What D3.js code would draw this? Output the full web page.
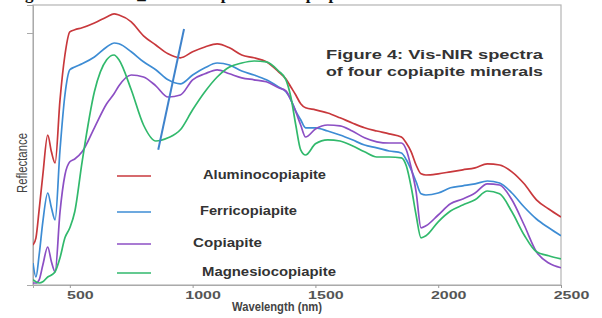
<!DOCTYPE html>
<html>
<head>
<meta charset="utf-8">
<script src="https://cdn.jsdelivr.net/npm/d3@7"></script>
<style>
  html, body { margin: 0; padding: 0; background: #fff; }
  svg { display: block; }
</style>
</head>
<body>
<svg id="chart" width="602" height="318"></svg>
<script>
// wavelength grid (nm) shared by all four spectra
const wavelengths = [350, 362, 375, 390, 410, 425, 440, 460, 480, 500,
  520, 550, 600, 650, 680, 700, 750, 800, 850, 900,
  950, 1000, 1050, 1100, 1150, 1200, 1250, 1300, 1350, 1380,
  1400, 1420, 1440, 1460, 1500, 1550, 1600, 1650, 1700, 1750,
  1800, 1850, 1870, 1890, 1910, 1930, 1950, 2000, 2050, 2100,
  2150, 2200, 2250, 2300, 2350, 2400, 2450, 2500];

// reflectance, arbitrary units
const aluminocopiapite = [10, 11.8, 18.8, 27.5, 37.5, 33.3, 30.5, 46.3, 57.5, 63.3,
  63.8, 64.3, 65.5, 67, 67.8, 67.5, 65.8, 62.3, 60, 57.8,
  56.8, 58.3, 59.5, 60.3, 59.3, 57.5, 56.8, 55.8, 53.3, 51.5,
  49.5, 47.5, 45.3, 44.3, 43.8, 43, 41.8, 40.5, 39.3, 38.5,
  37.8, 37, 35.5, 33.3, 30, 27.8, 27.5, 27.8, 28.3, 28.8,
  29.3, 30.3, 30, 28.3, 25.3, 21.3, 19, 17];
const ferricopiapite = [5.5, 2, 7.5, 15.8, 23, 19.3, 16.3, 33.8, 47.5, 53.8,
  54.5, 55.3, 57, 59.5, 60.5, 60.3, 58.3, 55.8, 53.8, 51.3,
  50.3, 52.5, 54.3, 55.5, 55, 53.5, 52.5, 51.3, 49.5, 48.3,
  46.3, 43.5, 41.3, 39.3, 39.3, 38.5, 37.5, 36.3, 35, 34.3,
  33.5, 33, 31.3, 28.8, 25.8, 22.8, 22.5, 23, 24.3, 24.8,
  25.3, 26, 25.5, 23, 19.5, 16.5, 14.3, 12.3];
const copiapite = [0.5, 0.5, 1.3, 5, 9.5, 5.8, 3.3, 18.3, 27.5, 30.8,
  31.5, 33.3, 39.3, 45.3, 47.8, 49.8, 52.5, 52, 49.8, 47,
  47.5, 51.3, 52.8, 53.8, 52.8, 51.8, 51.3, 50.8, 49.3, 48.5,
  46.3, 43.3, 40, 37, 39, 40, 39.8, 38.5, 36.8, 35.8,
  35.5, 35.5, 33.8, 29.3, 23.3, 14.3, 14.8, 17.5, 20.3, 21.5,
  23, 25.3, 25, 21.3, 15, 8.3, 5.5, 4.3];
const magnesiocopiapite = [1.3, 0.8, 0.5, 0.8, 2, 2.5, 3.3, 6.8, 11.8, 14.3,
  18.3, 30.8, 48.3, 56.3, 57.5, 56.3, 48.8, 40, 36, 36.8,
  38.8, 43.8, 48.3, 52, 54.5, 55.5, 56, 55.8, 53.5, 51.3,
  47, 40, 33.8, 32.5, 35.3, 36.3, 36, 34.8, 33.3, 32,
  32, 31.8, 29.8, 24.5, 17.5, 11.8, 12.3, 15.8, 18.5, 20,
  21.3, 23.5, 22.8, 18.3, 12.5, 8.3, 7.3, 6.5];

const seriesNames = ['Aluminocopiapite', 'Ferricopiapite', 'Copiapite', 'Magnesiocopiapite'];
const seriesValues = [aluminocopiapite, ferricopiapite, copiapite, magnesiocopiapite];
const xTickValues = [500, 1000, 1500, 2000, 2500];
const yTickValues = [63];
// hand-drawn diagonal marker: [wavelength, reflectance]
const markerLine = [[860, 33.8], [965, 64]];

const colors = ['#c8383c', '#3d8cd4', '#8c4fc4', '#31b96c'];

const svg = d3.select('#chart');
const plotLeft = 33, plotRight = 561, plotTop = 5, plotBottom = 285;

const x = d3.scaleLinear().domain([350, 2500]).range([plotLeft, plotRight]);
const y = d3.scaleLinear().domain([0, 70]).range([plotBottom, plotTop]);

// caption of the page above, cut by the crop (only descenders show)
svg.append('text')
    .attr('x', 10)
    .attr('y', -1.5)
    .attr('font-family', 'Liberation Serif')
    .attr('font-size', 17)
    .attr('font-weight', 'bold')
    .attr('fill', '#111')
    .text('Figure 3: CRISM_MTRDR spectra of copiapite minerals');

svg.append('defs').append('clipPath').attr('id', 'plot-clip')
    .append('rect')
    .attr('x', plotLeft).attr('y', plotTop)
    .attr('width', plotRight - plotLeft).attr('height', plotBottom - plotTop);

svg.append('rect')
    .attr('x', plotLeft).attr('y', plotTop)
    .attr('width', plotRight - plotLeft).attr('height', plotBottom - plotTop)
    .attr('fill', '#fff')
    .attr('stroke', '#b4b4b4')
    .attr('stroke-width', 1.2);

const xAxis = svg.append('g')
    .attr('transform', `translate(0,${plotBottom})`)
    .call(d3.axisBottom(x).tickValues(xTickValues).tickSize(3).tickFormat(d3.format('d')));
xAxis.select('.domain').attr('stroke', '#aaa');
xAxis.selectAll('line').attr('stroke', '#999');
xAxis.selectAll('text')
    .attr('font-family', 'Liberation Sans')
    .attr('font-size', 11)
    .attr('font-weight', 'bold')
    .attr('fill', '#555')
    .attr('dx', 10)
    .attr('textLength', d => String(d).length * 8.9)
    .attr('lengthAdjust', 'spacingAndGlyphs');

const yAxis = svg.append('g')
    .attr('transform', `translate(${plotLeft},0)`)
    .call(d3.axisLeft(y).tickValues(yTickValues).tickSize(6).tickFormat(''));
yAxis.select('.domain').attr('stroke', '#aaa');
yAxis.selectAll('line').attr('stroke', '#aaa');

svg.append('text')
    .attr('x', 277)
    .attr('y', 311)
    .attr('text-anchor', 'middle')
    .attr('font-family', 'Liberation Sans')
    .attr('font-size', 12.5)
    .attr('font-weight', 'bold')
    .attr('fill', '#444')
    .attr('textLength', 90)
    .attr('lengthAdjust', 'spacingAndGlyphs')
    .text('Wavelength (nm)');

svg.append('text')
    .attr('transform', 'translate(27,163) rotate(-90)')
    .attr('text-anchor', 'middle')
    .attr('font-family', 'Liberation Sans')
    .attr('font-size', 14)
    .attr('fill', '#444')
    .attr('textLength', 60)
    .attr('lengthAdjust', 'spacingAndGlyphs')
    .text('Reflectance');

const line = d3.line()
    .x((d, i) => x(wavelengths[i]))
    .y(d => y(d))
    .curve(d3.curveMonotoneX);

const plot = svg.append('g').attr('clip-path', 'url(#plot-clip)');

plot.selectAll('path.spectrum')
    .data(seriesValues)
    .join('path')
    .classed('spectrum', true)
    .attr('d', line)
    .attr('fill', 'none')
    .attr('stroke', (d, i) => colors[i])
    .attr('stroke-width', 1.7)
    .attr('stroke-linejoin', 'round');

plot.append('path')
    .datum(markerLine)
    .attr('d', d3.line().x(d => x(d[0])).y(d => y(d[1])))
    .attr('stroke', '#3f83cc')
    .attr('stroke-width', 2)
    .attr('fill', 'none');

// figure caption inside the plot
const caption = ['Figure 4: Vis-NIR spectra', 'of four copiapite minerals'];
svg.selectAll('text.caption')
    .data(caption)
    .join('text')
    .classed('caption', true)
    .attr('x', 326)
    .attr('y', (d, i) => 59 + i * 17)
    .attr('font-family', 'Liberation Sans')
    .attr('font-size', 13)
    .attr('font-weight', 'bold')
    .attr('fill', '#333')
    .attr('textLength', 217)
    .attr('lengthAdjust', 'spacingAndGlyphs')
    .text(d => d);

// legend
const legendRowY = [176, 212, 244, 273];
const legendTextX = [203, 200, 193, 202];
const legendTextW = [123, 97, 69, 134];
const legend = svg.selectAll('g.legend')
    .data(seriesNames)
    .join('g')
    .classed('legend', true)
    .attr('transform', (d, i) => `translate(0,${legendRowY[i]})`);

legend.append('line')
    .attr('x1', 117).attr('x2', 151)
    .attr('stroke', (d, i) => colors[i])
    .attr('stroke-width', 1.6);

legend.append('text')
    .attr('x', (d, i) => legendTextX[i])
    .attr('y', 3)
    .attr('font-family', 'Liberation Sans')
    .attr('font-size', 12)
    .attr('font-weight', 'bold')
    .attr('fill', '#333')
    .attr('textLength', (d, i) => legendTextW[i])
    .attr('lengthAdjust', 'spacingAndGlyphs')
    .text(d => d);
</script>
</body>
</html>
